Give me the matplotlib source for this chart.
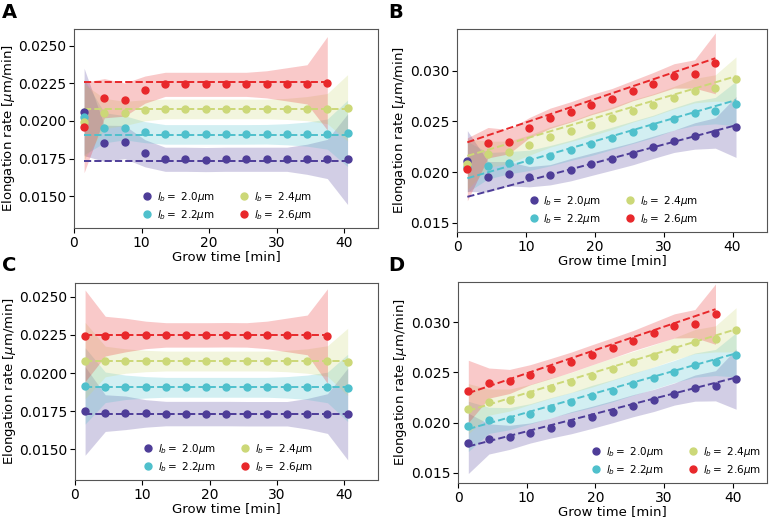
"""
Elongation rate vs grow time for four birth-length groups.
Top row: experiment (A flat, B linear); bottom row: model (C flat, D linear).
"""
import matplotlib.pyplot as plt
from matplotlib.ticker import FormatStrFormatter

# grow time bins (min); the 2.6 um group stops one bin earlier
grow_time = [1.5, 4.5, 7.5, 10.5, 13.5, 16.5, 19.5, 22.5, 25.5, 28.5, 31.5, 34.5, 37.5, 40.5]

labels = [r"$l_b=$ 2.0$\mu$m", r"$l_b=$ 2.2$\mu$m", r"$l_b=$ 2.4$\mu$m", r"$l_b=$ 2.6$\mu$m"]
colors = ["#4e3d98", "#4fc0cc", "#ccd878", "#e8282b"]

# ---- panel A: measured mean rates (flat model)
a_l20 = [0.0206, 0.01852, 0.0186, 0.01786, 0.01746, 0.01746, 0.01744, 0.01746, 0.01746, 0.01746, 0.01746, 0.01746, 0.01748, 0.01746]
a_l22 = [0.02027, 0.01955, 0.01955, 0.01926, 0.01911, 0.01911, 0.01911, 0.01911, 0.01911, 0.01912, 0.01912, 0.01913, 0.01913, 0.01918]
a_l24 = [0.01994, 0.0205, 0.0205, 0.02071, 0.0208, 0.0208, 0.0208, 0.0208, 0.0208, 0.0208, 0.0208, 0.02082, 0.02082, 0.02087]
a_l26 = [0.01957, 0.02151, 0.02142, 0.02208, 0.02243, 0.02243, 0.02243, 0.02243, 0.02243, 0.02243, 0.02243, 0.02243, 0.0225]
a_fit = [(0.01735, 0.01735), (0.0191, 0.0191), (0.02082, 0.02082), (0.02258, 0.02258)]

# ---- panel B: measured mean rates (linear model)
b_l20 = [0.02109, 0.01955, 0.01984, 0.01955, 0.01974, 0.02024, 0.02077, 0.02129, 0.02182, 0.02245, 0.02304, 0.02356, 0.02386, 0.02445]
b_l22 = [0.02053, 0.02063, 0.02093, 0.02116, 0.02162, 0.02215, 0.02274, 0.02333, 0.02392, 0.02451, 0.02524, 0.0258, 0.02606, 0.02675]
b_l24 = [0.02077, 0.02175, 0.02195, 0.02267, 0.02346, 0.02402, 0.02467, 0.0253, 0.02603, 0.02662, 0.02734, 0.02803, 0.02829, 0.02915]
b_l26 = [0.02028, 0.0229, 0.0230, 0.02438, 0.0253, 0.02593, 0.02665, 0.02724, 0.02803, 0.02872, 0.02948, 0.02967, 0.03072]
b_fit = [(0.01757, 0.02462), (0.0194, 0.0271), (0.0216, 0.02945), (0.02294, 0.03122)]

# ---- panel C: simulated rates (flat model)
c_l20 = [0.01752, 0.01738, 0.0174, 0.01736, 0.01735, 0.01735, 0.01735, 0.01735, 0.01734, 0.01734, 0.01734, 0.01734, 0.01735, 0.01732]
c_l22 = [0.01916, 0.01907, 0.01907, 0.01907, 0.01907, 0.01907, 0.01907, 0.01907, 0.01907, 0.01907, 0.01907, 0.01907, 0.01906, 0.01903]
c_l24 = [0.02082, 0.02076, 0.02079, 0.02079, 0.02079, 0.02079, 0.02079, 0.02079, 0.02079, 0.02079, 0.02079, 0.02079, 0.02079, 0.02073]
c_l26 = [0.02244, 0.02242, 0.02249, 0.0225, 0.0225, 0.0225, 0.0225, 0.02251, 0.0225, 0.0225, 0.0225, 0.0225, 0.02242]
c_fit = [(0.01735, 0.01735), (0.01907, 0.01907), (0.02079, 0.02079), (0.0225, 0.0225)]

# ---- panel D: simulated rates (linear model)
d_l20 = [0.01794, 0.01838, 0.01854, 0.01897, 0.01947, 0.0200, 0.02053, 0.02109, 0.02169, 0.02221, 0.02285, 0.02344, 0.02367, 0.02434]
d_l22 = [0.01963, 0.02023, 0.0204, 0.02089, 0.02149, 0.02202, 0.02261, 0.02318, 0.02384, 0.02444, 0.02509, 0.02573, 0.02599, 0.02675]
d_l24 = [0.02139, 0.02205, 0.02225, 0.02281, 0.02344, 0.024, 0.02464, 0.02533, 0.02599, 0.02665, 0.02735, 0.02807, 0.02834, 0.02924]
d_l26 = [0.02311, 0.02394, 0.0241, 0.02477, 0.02539, 0.02603, 0.02675, 0.02745, 0.02817, 0.0289, 0.02963, 0.02986, 0.0308]
d_fit = [(0.01764, 0.0245), (0.01937, 0.02690), (0.02119, 0.0293), (0.02294, 0.03129)]

# half widths of the shaded spread, flat panels (A, C)
flat_sd20 = [0.0029, 0.0012, 0.0011, 0.0009, 0.0008, 0.0008, 0.0008, 0.0008, 0.0008, 0.0008, 0.0008, 0.0010, 0.0013, 0.0030]
flat_sd22 = [0.0025, 0.0010, 0.0008, 0.0007, 0.00065, 0.00065, 0.00065, 0.00065, 0.00065, 0.00065, 0.0007, 0.0008, 0.0010, 0.0022]
flat_sd24 = [0.0025, 0.0010, 0.0008, 0.0007, 0.00065, 0.00065, 0.00065, 0.00065, 0.00065, 0.00065, 0.0007, 0.0008, 0.0010, 0.0022]
flat_sd26 = [0.0030, 0.0013, 0.0011, 0.0009, 0.0008, 0.0008, 0.0008, 0.0008, 0.0008, 0.0009, 0.0011, 0.0013, 0.0031]

# half widths of the shaded spread, linear panels (B, D)
lin_sd20 = [0.0030, 0.0015, 0.0012, 0.0010, 0.0010, 0.0011, 0.0011, 0.0011, 0.0011, 0.0011, 0.0011, 0.0013, 0.0015, 0.0030]
lin_sd22 = [0.0025, 0.0013, 0.0011, 0.0010, 0.0010, 0.0010, 0.0011, 0.0011, 0.0011, 0.0011, 0.0011, 0.0012, 0.0013, 0.0022]
lin_sd24 = [0.0025, 0.0013, 0.0011, 0.0010, 0.0010, 0.0010, 0.0011, 0.0011, 0.0011, 0.0011, 0.0011, 0.0012, 0.0013, 0.0022]
lin_sd26 = [0.0031, 0.0015, 0.0012, 0.0010, 0.0010, 0.0010, 0.0010, 0.0010, 0.0010, 0.0011, 0.0012, 0.0014, 0.0030]


def draw_panel(ax, series, fits, spreads, ylim, yticks, fmt, legend_loc):
    """Bands, fitted dashed lines and mean points for one panel."""
    for vals, fit, sd, col, lab in zip(series, fits, spreads, colors, labels):
        t = grow_time[:len(vals)]
        lo = [v - s for v, s in zip(vals, sd)]
        hi = [v + s for v, s in zip(vals, sd)]
        ax.fill_between(t, lo, hi, color=col, alpha=0.25, linewidth=0)
        ax.plot([t[0], t[-1]], list(fit), "--", color=col, lw=1.4, zorder=3)
        ax.plot(t, vals, "o", color=col, ms=5, label=lab, zorder=4, linestyle="none")

    ax.set_xlim(0, 45)
    ax.set_ylim(*ylim)
    ax.set_xticks([0, 10, 20, 30, 40])
    ax.set_yticks(yticks)
    ax.yaxis.set_major_formatter(FormatStrFormatter(fmt))
    ax.tick_params(labelsize=10, pad=2)
    for sp in ax.spines.values():
        sp.set_color("#555555")
    ax.set_xlabel("Grow time [min]", fontsize=9.5, labelpad=0)
    ax.set_ylabel(r"Elongation rate [$\mu$m/min]", fontsize=9.5, labelpad=1)
    ax.legend(loc=legend_loc, ncol=2, frameon=False, fontsize=7.5,
              handletextpad=0.2, columnspacing=2.0, labelspacing=0.4,
              borderaxespad=0.2, handlelength=1.5)


def main():
    fig = plt.figure(figsize=(7.69, 5.2), dpi=100)

    ax_a = fig.add_axes([0.0962, 0.5615, 0.3953, 0.3827])
    ax_b = fig.add_axes([0.5943, 0.5538, 0.4031, 0.3904])
    ax_c = fig.add_axes([0.0975, 0.0769, 0.3940, 0.3789])
    ax_d = fig.add_axes([0.5956, 0.0712, 0.4018, 0.3865])

    flat_sd = [flat_sd20, flat_sd22, flat_sd24, flat_sd26]
    lin_sd = [lin_sd20, lin_sd22, lin_sd24, lin_sd26]
    flat_ticks = [0.0150, 0.0175, 0.0200, 0.0225, 0.0250]
    lin_ticks = [0.015, 0.020, 0.025, 0.030]

    draw_panel(ax_a, [a_l20, a_l22, a_l24, a_l26], a_fit, flat_sd,
               (0.0129, 0.0261), flat_ticks, "%.4f", "lower center")
    draw_panel(ax_b, [b_l20, b_l22, b_l24, b_l26], b_fit, lin_sd,
               (0.0141, 0.0341), lin_ticks, "%.3f", "lower center")
    draw_panel(ax_c, [c_l20, c_l22, c_l24, c_l26], c_fit, flat_sd,
               (0.0130, 0.0259), flat_ticks, "%.4f", "lower center")
    draw_panel(ax_d, [d_l20, d_l22, d_l24, d_l26], d_fit, lin_sd,
               (0.0140, 0.0340), lin_ticks, "%.3f", "lower right")

    # panel letters
    for x, y, s in [(0.002, 0.975, "A"), (0.505, 0.975, "B"),
                    (0.002, 0.49, "C"), (0.505, 0.49, "D")]:
        fig.text(x, y, s, fontsize=14, fontweight="bold", va="center", ha="left")

    fig.savefig("out.png", dpi=100)
    plt.close(fig)


if __name__ == "__main__":
    main()
